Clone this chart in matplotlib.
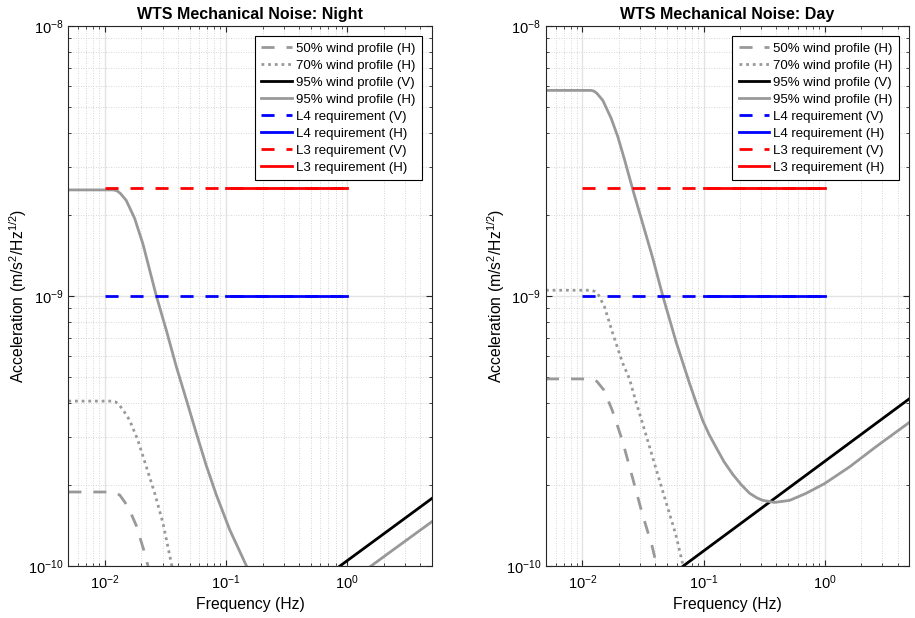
import matplotlib
matplotlib.use("Agg")
import matplotlib.pyplot as plt
import numpy as np

plt.rcParams['font.family'] = ['Liberation Sans', 'DejaVu Sans']
plt.rcParams['mathtext.default'] = 'regular'
plt.rcParams['axes.unicode_minus'] = False

GRAY = '#999999'

# requirement levels (m/s^2/Hz^1/2) and their frequency spans (Hz)
l4_level = 1.0e-9
l3_level = 2.5e-9
req_v_freq = [0.01, 1.0]
req_h_freq = [0.1, 1.0]

# --- Night ---
night_50h_f = [0.005, 0.0118, 0.0133, 0.0148, 0.0165, 0.0182, 0.0209, 0.0227, 0.028]
night_50h_a = [1.88e-10, 1.88e-10, 1.83e-10, 1.71e-10, 1.56e-10, 1.41e-10, 1.15e-10, 1.0e-10,
               7.0e-11]

night_70h_f = [0.005, 0.0114, 0.0123, 0.0132, 0.0145, 0.016, 0.0187, 0.0220, 0.0258, 0.0302,
               0.0354, 0.045]
night_70h_a = [4.08e-10, 4.08e-10, 4.05e-10, 3.94e-10, 3.72e-10, 3.47e-10, 2.93e-10, 2.33e-10,
               1.86e-10, 1.44e-10, 1.02e-10, 6.5e-11]

night_95v_f = [0.87, 5.0]
night_95v_a = [1.0e-10, 1.78e-10]

night_95h_f = [0.005, 0.0118, 0.0126, 0.0134, 0.0150, 0.0176, 0.0206, 0.0234, 0.0266, 0.0322,
               0.0389, 0.0471, 0.0569, 0.0688, 0.0833, 0.1074, 0.1475, 0.24, 0.386, 0.706, 1.0,
               1.57, 2.67, 5.0]
night_95h_a = [2.47e-9, 2.47e-9, 2.45e-9, 2.40e-9, 2.26e-9, 1.94e-9, 1.56e-9, 1.25e-9, 1.0e-9,
               7.45e-10, 5.47e-10, 4.12e-10, 3.10e-10, 2.35e-10, 1.83e-10, 1.36e-10, 1.0e-10,
               7.75e-11, 7.3e-11, 7.9e-11, 8.6e-11, 1.0e-10, 1.19e-10, 1.46e-10]

# --- Day ---
day_50h_f = [0.005, 0.0118, 0.0125, 0.0132, 0.015, 0.0176, 0.0213, 0.0258, 0.0311, 0.0377,
             0.0401, 0.05]
day_50h_a = [4.93e-10, 4.93e-10, 4.90e-10, 4.82e-10, 4.49e-10, 3.78e-10, 2.93e-10, 2.14e-10,
             1.57e-10, 1.18e-10, 1.05e-10, 7.5e-11]

day_70h_f = [0.005, 0.0118, 0.0126, 0.0134, 0.0152, 0.0178, 0.0215, 0.0244, 0.0274, 0.0332,
             0.0401, 0.0485, 0.0587, 0.068, 0.09]
day_70h_a = [1.05e-9, 1.05e-9, 1.04e-9, 1.02e-9, 9.12e-10, 7.27e-10, 5.64e-10, 4.95e-10,
             4.12e-10, 3.1e-10, 2.33e-10, 1.75e-10, 1.32e-10, 1.0e-10, 6.5e-11]

day_95v_f = [0.068, 5.0]
day_95v_a = [1.0e-10, 4.16e-10]

day_95h_f = [0.005, 0.0118, 0.0125, 0.0132, 0.01473, 0.01726, 0.01959, 0.0223, 0.0261, 0.0315,
             0.0381, 0.0461, 0.0594, 0.0766, 0.0866, 0.0987, 0.112, 0.127, 0.148, 0.175, 0.205,
             0.240, 0.275, 0.309, 0.386, 0.514, 0.706, 1.0, 1.61, 2.67, 5.0]
day_95h_a = [5.77e-9, 5.77e-9, 5.73e-9, 5.62e-9, 5.30e-9, 4.55e-9, 3.89e-9, 3.19e-9, 2.47e-9,
             1.85e-9, 1.38e-9, 1.0e-9, 6.75e-10, 4.75e-10, 4.05e-10, 3.45e-10, 3.05e-10,
             2.75e-10, 2.43e-10, 2.18e-10, 2.0e-10, 1.86e-10, 1.79e-10, 1.75e-10, 1.72e-10,
             1.75e-10, 1.86e-10, 2.02e-10, 2.33e-10, 2.77e-10, 3.40e-10]


def draw_panel(ax, title, c50, c70, c95v, c95h):
    dash = (4.7, 4.3)
    ax.plot(*c50, color=GRAY, lw=2, dashes=dash, label='50% wind profile (H)')
    ax.plot(*c70, color=GRAY, lw=2, dashes=(1, 1.4), label='70% wind profile (H)')
    ax.plot(*c95v, color='k', lw=2, label='95% wind profile (V)')
    ax.plot(*c95h, color=GRAY, lw=2, label='95% wind profile (H)')
    ax.plot(req_v_freq, [l4_level] * 2, color='b', lw=2, dashes=dash, label='L4 requirement (V)')
    ax.plot(req_h_freq, [l4_level] * 2, color='b', lw=2, label='L4 requirement (H)')
    ax.plot(req_v_freq, [l3_level] * 2, color='r', lw=2, dashes=dash, label='L3 requirement (V)')
    ax.plot(req_h_freq, [l3_level] * 2, color='r', lw=2, label='L3 requirement (H)')

    ax.set_xscale('log')
    ax.set_yscale('log')
    ax.set_xlim(0.005, 5)
    ax.set_ylim(1e-10, 1e-8)
    ax.set_xticks([1e-2, 1e-1, 1e0])
    ax.set_yticks([1e-10, 1e-9, 1e-8])

    ax.grid(True, which='major', color='#e3e3e3', lw=1, ls='-')
    ax.grid(True, which='minor', color='#c8c8c8', lw=0.6, ls=(0, (1, 2)))
    ax.set_axisbelow(True)
    ax.tick_params(which='both', direction='in', top=True, right=True, labelsize=10.5,
                   color='#262626')
    ax.tick_params(which='major', length=4)
    ax.tick_params(which='minor', length=2.5)
    ax.tick_params(axis='x', which='major', pad=5)
    for sp in ax.spines.values():
        sp.set_color('#262626')
        sp.set_linewidth(0.8)

    ax.set_title(title, fontsize=11.5, fontweight='bold', pad=5)
    ax.set_xlabel('Frequency (Hz)', fontsize=11.3, labelpad=4)
    ax.set_ylabel('Acceleration (m/s$^2$/Hz$^{1/2}$)', fontsize=11.3, labelpad=-1)

    leg = ax.legend(loc='upper right', fontsize=9.5, handlelength=2.3, handletextpad=0.33,
                    labelspacing=0.36, borderaxespad=0.75, borderpad=0.5, fancybox=False,
                    framealpha=1, edgecolor='k')
    leg.get_frame().set_linewidth(0.8)


fig = plt.figure(figsize=(9.15, 6.18), dpi=100)
ax1 = fig.add_axes([0.0747, 0.0841, 0.3974, 0.874])
ax2 = fig.add_axes([0.5967, 0.0841, 0.397, 0.874])

draw_panel(ax1, 'WTS Mechanical Noise: Night',
           (night_50h_f, night_50h_a), (night_70h_f, night_70h_a),
           (night_95v_f, night_95v_a), (night_95h_f, night_95h_a))
draw_panel(ax2, 'WTS Mechanical Noise: Day',
           (day_50h_f, day_50h_a), (day_70h_f, day_70h_a),
           (day_95v_f, day_95v_a), (day_95h_f, day_95h_a))

fig.savefig('out.png', dpi=100)
